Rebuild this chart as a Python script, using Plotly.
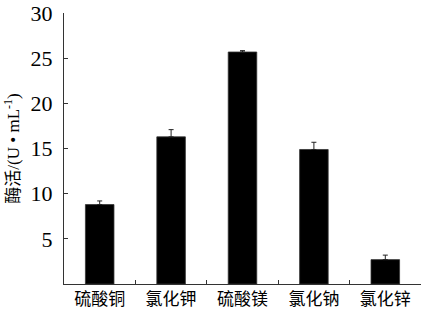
import plotly.graph_objects as go

categories = ["硫酸铜", "氯化钾", "硫酸镁", "氯化钠", "氯化锌"]
values = [8.8, 16.3, 25.7, 14.9, 2.7]
errors = [0.4, 0.8, 0.15, 0.8, 0.5]
y_ticks = [5, 10, 15, 20, 25, 30]

fig = go.Figure(go.Bar(
    x=categories, y=values,
    width=0.4,
    marker=dict(color="black", line=dict(color="#333", width=0.8)),
    error_y=dict(type="data", array=errors, visible=True, color="#222",
                 thickness=1, width=2.5, symmetric=False, arrayminus=[0]*5),
))

fig.update_layout(
    width=422, height=317,
    margin=dict(l=64, r=1, t=8, b=33),
    plot_bgcolor="white", paper_bgcolor="white",
    showlegend=False,
    font=dict(family="Liberation Serif, Noto Sans CJK SC", color="black"),
    bargap=0.6,
)
fig.update_xaxes(
    showline=True, linecolor="#333", linewidth=1,
    ticks="inside", ticklen=4, tickcolor="#333", tickson="boundaries",
    tickfont=dict(size=17, family="Noto Sans CJK SC"),
    showgrid=False, zeroline=False,
)
fig.update_yaxes(
    range=[0, 30.02], tickvals=y_ticks,
    showline=True, linecolor="#333", linewidth=1,
    ticks="inside", ticklen=4, tickcolor="#333",
    tickfont=dict(size=22, family="Liberation Serif"),
    ticklabelstandoff=6, ticklabeloverflow="allow",
    showgrid=False, zeroline=False,
    title=dict(text="酶活/(U • mL<sup>-1</sup>)", font=dict(size=17, family="Liberation Serif, Noto Sans CJK SC"), standoff=6),
)

fig.write_html("out.html")
